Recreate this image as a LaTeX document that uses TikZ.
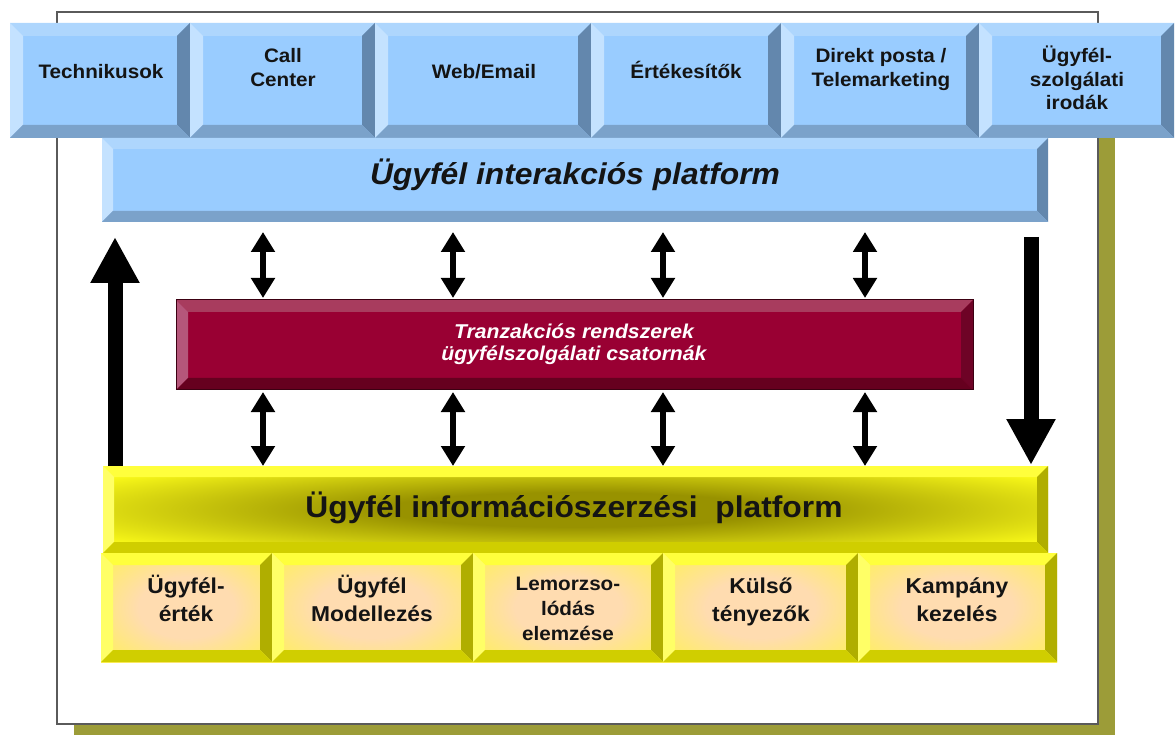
\documentclass[tikz,border=0pt]{standalone}
\usepackage{fontspec}
\setmainfont{Liberation Sans}[FakeStretch=1.06]
\usetikzlibrary{arrows.meta,calc}

% palette
\definecolor{framegray}{HTML}{5A5A5A}
\definecolor{shadowolive}{HTML}{9C9C38}
\definecolor{bluface}{HTML}{99CCFF}
\definecolor{blutop}{HTML}{AED6FD}
\definecolor{bluleft}{HTML}{C4E2FF}
\definecolor{bluright}{HTML}{6387AD}
\definecolor{blubot}{HTML}{7BA2CA}
\definecolor{redface}{HTML}{990033}
\definecolor{redtop}{HTML}{A83C5E}
\definecolor{redleft}{HTML}{B5567A}
\definecolor{redright}{HTML}{6E0326}
\definecolor{redbot}{HTML}{66001F}
\definecolor{redline}{HTML}{3C0012}
\definecolor{yface}{HTML}{FFFF1A}
\definecolor{ytop}{HTML}{FFFF3C}
\definecolor{yleft}{HTML}{FFFF66}
\definecolor{yright}{HTML}{B0AE00}
\definecolor{ybot}{HTML}{D0CE00}
\definecolor{glowc}{HTML}{989200}
\definecolor{peachc}{HTML}{FFDCB0}
\definecolor{inkc}{HTML}{141414}

\pgfdeclareradialshading{glow}{\pgfpoint{0bp}{0bp}}{color(0bp)=(glowc); color(10bp)=(glowc); color(32bp)=(yface); color(50bp)=(yface)}
\pgfdeclareradialshading{peach}{\pgfpoint{0bp}{0bp}}{color(0bp)=(peachc); color(14bp)=(peachc); color(48bp)=(yface); color(50bp)=(yface)}

% a flat slab given by its corners
\newcommand\placeslab[6]{%
  \node[slab, #2, minimum width={#5-#3}, minimum height={#6-#4}] (#1) at (#3,#4) {};}

% four bevelled edges round a slab: node, width, top, left, right, bottom colours
\newcommand\bevelslab[6]{%
  \fill[#3] (#1.north west) -- (#1.north east) -- ($(#1.north east)+(-#2,#2)$) -- ($(#1.north west)+(#2,#2)$) -- cycle;
  \fill[#4] (#1.north west) -- ($(#1.north west)+(#2,#2)$) -- ($(#1.south west)+(#2,-#2)$) -- (#1.south west) -- cycle;
  \fill[#5] (#1.north east) -- ($(#1.north east)+(-#2,#2)$) -- ($(#1.south east)+(-#2,-#2)$) -- (#1.south east) -- cycle;
  \fill[#6] (#1.south west) -- ($(#1.south west)+(#2,-#2)$) -- ($(#1.south east)+(-#2,-#2)$) -- (#1.south east) -- cycle;}

\tikzset{
  slab/.style={rectangle, inner sep=0pt, outer sep=0pt, anchor=north west, draw=none},
  bluslab/.style={fill=bluface},
  redslab/.style={fill=redface},
  glowslab/.style={shade, shading=glow},
  peachslab/.style={shade, shading=peach},
  txtbase/.style={text=inkc, align=center, anchor=base, inner sep=0pt},
  toptxt/.style={txtbase, font=\bfseries\fontsize{19.5}{23.5}\selectfont},
  bartxt/.style={txtbase, font=\bfseries\itshape\fontsize{30}{36}\selectfont},
  redtxt/.style={txtbase, text=white, font=\bfseries\itshape\fontsize{20}{22}\selectfont},
  yeltxt/.style={txtbase, font=\bfseries\fontsize{30}{36}\selectfont},
  bottxt/.style={txtbase, font=\bfseries\fontsize{21.5}{28}\selectfont},
  smalltxt/.style={txtbase, font=\bfseries\fontsize{19.5}{25}\selectfont},
  dbl/.style={line width=6pt, {Triangle[width=23pt,length=20pt]}-{Triangle[width=23pt,length=20pt]}},
  bigarrow/.style={line width=15pt, -{Triangle[width=46pt,length=46pt]}},
}

\begin{document}
\begin{tikzpicture}[x=1pt,y=-1pt]
\useasboundingbox (0,0) rectangle (1176,735);

% frame with its drop shadow
\fill[shadowolive] (74,25) rectangle (1115,737);
\draw[framegray, line width=2pt, fill=white] (57,12) rectangle (1098,724);

% channel buttons
\placeslab{t1}{bluslab}{10}{23}{190}{138}
\placeslab{t2}{bluslab}{190}{23}{375}{138}
\placeslab{t3}{bluslab}{375}{23}{591}{138}
\placeslab{t4}{bluslab}{591}{23}{781}{138}
\placeslab{t5}{bluslab}{781}{23}{979}{138}
\placeslab{t6}{bluslab}{979}{23}{1174}{138}
\foreach \b in {t1,t2,t3,t4,t5,t6}{\bevelslab{\b}{13}{blutop}{bluleft}{bluright}{blubot}}

% interaction platform
\placeslab{ib}{bluslab}{102}{138}{1048}{222}
\bevelslab{ib}{11}{blutop}{bluleft}{bluright}{blubot}

% transaction systems
\placeslab{mb}{redslab}{176}{300}{973}{390}
\bevelslab{mb}{12}{redtop}{redleft}{redright}{redbot}
\draw[redline, line width=1pt] (mb.north west) rectangle (mb.south east);

% information platform
\placeslab{yb}{glowslab}{103}{466}{1048}{553}
\bevelslab{yb}{11}{ytop}{yleft}{yright}{ybot}

% analysis buttons
\placeslab{b1}{peachslab}{101}{553}{272}{662}
\placeslab{b2}{peachslab}{272}{553}{473}{662}
\placeslab{b3}{peachslab}{473}{553}{663}{662}
\placeslab{b4}{peachslab}{663}{553}{858}{662}
\placeslab{b5}{peachslab}{858}{553}{1057}{662}
\foreach \b in {b1,b2,b3,b4,b5}{\bevelslab{\b}{12}{ytop}{yleft}{yright}{ybot}}

% labels (base anchor sits on the last line)
\node[toptxt] (t1txt) at (101,79) {Technikusok};
\node[toptxt] (t2txt) at (283,86.5) {Call\\Center};
\node[toptxt] (t3txt) at (484,79) {Web/Email};
\node[toptxt] (t4txt) at (686,79) {Értékesítők};
\node[toptxt] (t5txt) at (881,86.5) {Direkt posta /\\Telemarketing};
\node[toptxt] (t6txt) at (1077,110) {Ügyfél-\\szolgálati\\irodák};
\node[bartxt] (ibtxt) at (575,185) {Ügyfél interakciós platform};
\node[redtxt] (mbtxt) at (574,361) {Tranzakciós rendszerek\\ügyfélszolgálati csatornák};
\node[yeltxt] (ybtxt) at (574,517) {Ügyfél információszerzési\ \ platform};
\node[bottxt] (b1txt) at (186,621) {Ügyfél-\\érték};
\node[bottxt] (b2txt) at (372,621) {Ügyfél\\Modellezés};
\node[smalltxt] (b3txt) at (568,640) {Lemorzso-\\lódás\\elemzése};
\node[bottxt] (b4txt) at (761,621) {Külső\\tényezők};
\node[bottxt] (b5txt) at (957,621) {Kampány\\kezelés};

% two-way links between the layers
\coordinate (k1) at (263,0);
\coordinate (k2) at (453,0);
\coordinate (k3) at (663,0);
\coordinate (k4) at (865,0);
\foreach \k in {k1,k2,k3,k4}{
  \draw[dbl] ($(ib.south -| \k)+(0,10)$) -- ($(mb.north -| \k)+(0,-2)$);
  \draw[dbl] ($(mb.south -| \k)+(0,2)$) -- (yb.north -| \k);
}

% overall flow
\coordinate (upend) at (115,237);
\coordinate (downstart) at (1031,237);
\draw[bigarrow] (yb.north -| upend) -- (upend);
\draw[bigarrow] (downstart) -- ($(yb.north -| downstart)+(0,-1)$);
\end{tikzpicture}
\end{document}
